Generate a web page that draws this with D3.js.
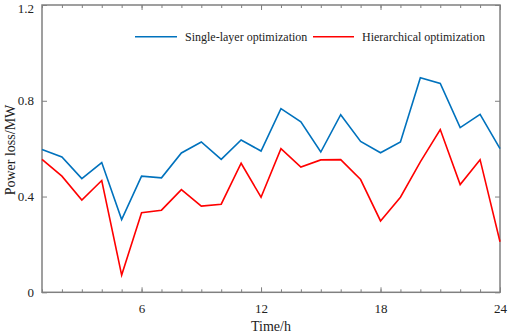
<!DOCTYPE html>
<html><head><meta charset="utf-8">
<script src="https://cdn.jsdelivr.net/npm/d3@7"></script>
<style>body{margin:0;background:#fff}svg{display:block}text{font-family:"Liberation Serif","Times New Roman",serif;fill:#222}</style>
</head><body>
<svg id="c" width="512" height="333"></svg>
<script>
const hours = d3.range(1, 25);
const singleLayer = [0.596,0.565,0.475,0.542,0.304,0.485,0.478,0.582,0.628,0.555,0.636,0.59,0.767,0.712,0.586,0.742,0.63,0.583,0.628,0.896,0.872,0.688,0.743,0.6];
const hierarchical = [0.555,0.485,0.385,0.467,0.072,0.332,0.343,0.429,0.36,0.368,0.539,0.397,0.6,0.523,0.553,0.554,0.471,0.298,0.397,0.545,0.68,0.45,0.554,0.211];
const seriesNames = ["Single-layer optimization","Hierarchical optimization"];
const xTickLabels = [6,12,18,24];
const yTickLabels = [0,0.4,0.8,1.2];

const svg = d3.select("#c");
const L=42, R=500, T=5, B=292.3;
const x = d3.scaleLinear().domain([1,24]).range([L,R]);
const y = d3.scaleLinear().domain([0,1.2]).range([B,T]);
const axisColor = "#808080";

function styleAxis(g){
  g.select(".domain").remove();
  g.selectAll(".tick line").attr("stroke",axisColor).attr("stroke-width",1);
  g.selectAll(".tick text").style("font-size","13px").attr("fill","#222");
}
const minorX = d3.range(1,25);
svg.append("g").attr("transform",`translate(0,${B})`)
  .call(d3.axisBottom(x).tickValues(minorX).tickSize(-3).tickFormat(""))
  .call(styleAxis);
svg.append("g").attr("transform",`translate(0,${B})`)
  .call(d3.axisBottom(x).tickValues(xTickLabels).tickSize(-5).tickPadding(11).tickFormat(d3.format("d")))
  .call(styleAxis);
svg.append("g").attr("transform",`translate(0,${T})`)
  .call(d3.axisTop(x).tickValues(minorX).tickSize(-3).tickFormat(""))
  .call(styleAxis);
svg.append("g").attr("transform",`translate(0,${T})`)
  .call(d3.axisTop(x).tickValues(xTickLabels).tickSize(-5).tickFormat(""))
  .call(styleAxis);
const yAx = svg.append("g").attr("transform",`translate(${L},0)`)
  .call(d3.axisLeft(y).tickValues(yTickLabels).tickSize(-5).tickPadding(8).tickFormat(d=>d===0?"0":d3.format(".1f")(d)))
  .call(styleAxis);
yAx.selectAll(".tick text").filter(d=>d===1.2).attr("dy","0.55em");
svg.append("g").attr("transform",`translate(${R},0)`)
  .call(d3.axisRight(y).tickValues(yTickLabels).tickSize(-5).tickFormat(""))
  .call(styleAxis);
svg.append("rect").attr("x",L).attr("y",T).attr("width",R-L).attr("height",B-T)
  .attr("fill","none").attr("stroke",axisColor).attr("stroke-width",1.5);

const line = d3.line().x((d,i)=>x(hours[i])).y(d=>y(d));
const colors = ["#0072BD","#FF0000"];
[singleLayer, hierarchical].forEach((s,k)=>{
  svg.append("path").datum(s).attr("d",line).attr("fill","none")
    .attr("stroke",colors[k]).attr("stroke-width",1.6).attr("stroke-linejoin","miter");
});

const leg = [{x1:135,x2:177,tx:185},{x1:313,x2:354,tx:362}];
leg.forEach((p,k)=>{
  svg.append("line").attr("x1",p.x1).attr("x2",p.x2).attr("y1",36.7).attr("y2",36.7)
    .attr("stroke",colors[k]).attr("stroke-width",1.6);
  svg.append("text").attr("x",p.tx).attr("y",41).style("font-size","12px").text(seriesNames[k]);
});

svg.append("text").attr("x",(L+R)/2).attr("y",331).attr("text-anchor","middle").style("font-size","14px").text("Time/h");
svg.append("text").attr("transform",`translate(15,150) rotate(-90)`).attr("text-anchor","middle").style("font-size","14px").text("Power loss/MW");
</script>
</body></html>
